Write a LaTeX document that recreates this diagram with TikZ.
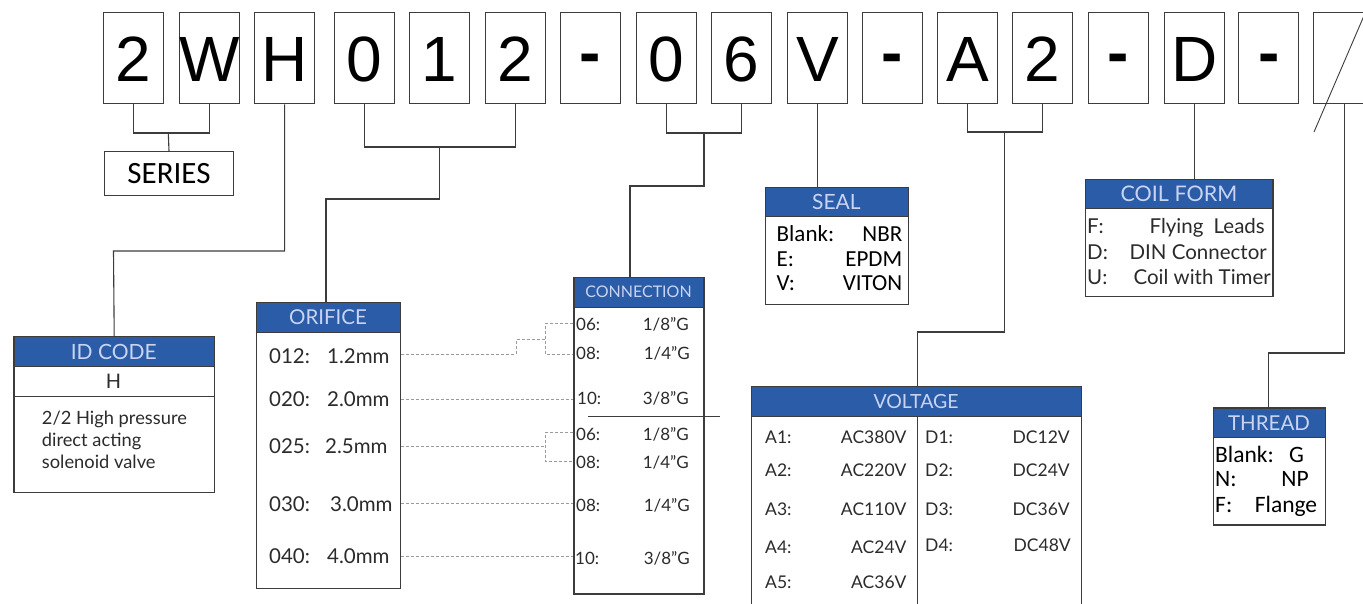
\documentclass[tikz,border=0pt]{standalone}
\usepackage{fontspec}
\setmainfont{Lato}
\newfontfamily\calib{Carlito}
\newfontfamily\arial{Liberation Sans}
\definecolor{hdrblue}{HTML}{2A5CA8}
\definecolor{hdrtext}{HTML}{CAD4F2}
\definecolor{framec}{HTML}{3C3C3C}
\definecolor{txt}{HTML}{2B2B2B}
\definecolor{dashc}{HTML}{9A9A9A}
\tikzset{
 codebox/.style={draw=framec, line width=1.3pt, minimum width=60pt, minimum height=91pt, inner sep=0pt, anchor=north west, text height=46pt, text depth=0pt, font=\arial\fontsize{64}{64}\selectfont},
 hdr/.style={fill=hdrblue, text=hdrtext, inner sep=0pt, anchor=north west},
 panel/.style={draw=framec, line width=1.4pt, inner sep=0pt, anchor=north west},
 link/.style={draw=framec, line width=1.1pt},
 dashlink/.style={draw=dashc, line width=0.8pt, dash pattern=on 3pt off 2pt},
 av/.style={text=txt, inner sep=0pt, font=\fontsize{20.5}{20.5}\selectfont},
 avs/.style={text=txt, inner sep=0pt, font=\fontsize{17}{17}\selectfont},
 avv/.style={text=txt, inner sep=0pt, font=\fontsize{17.5}{17.5}\selectfont},
 avi/.style={text=txt, inner sep=0pt, font=\fontsize{18.3}{18.3}\selectfont},
 avc/.style={text=txt, inner sep=0pt, font=\fontsize{20.5}{20.5}\selectfont},
 cal/.style={text=black, inner sep=0pt, font=\calib\fontsize{23}{23}\selectfont},
 calt/.style={text=black, inner sep=0pt, font=\calib\fontsize{23.5}{23.5}\selectfont},
}
\begin{document}
\begin{tikzpicture}[x=1pt,y=-1pt]
\useasboundingbox (0,0) rectangle (1363,604);
\fill[white] (0,0) rectangle (1363,604);
% top code boxes
\node[codebox] (c1) at (103,12) {2};
\node[codebox] (c2) at (178.6,12) {W};
\node[codebox] (c3) at (254,12) {H};
\node[codebox] (c4) at (334,12) {0};
\node[codebox] (c5) at (409,12) {1};
\node[codebox] (c6) at (485,12) {2};
\node[codebox] (c7) at (560,12) {\bfseries\raisebox{7pt}{-}};
\node[codebox] (c8) at (636,12) {0};
\node[codebox] (c9) at (710.5,12) {6};
\node[codebox] (c10) at (786.7,12) {V};
\node[codebox] (c11) at (861.6,12) {\bfseries\raisebox{7pt}{-}};
\node[codebox] (c12) at (937,12) {A};
\node[codebox] (c13) at (1012,12) {2};
\node[codebox] (c14) at (1087.7,12) {\bfseries\raisebox{7pt}{-}};
\node[codebox] (c15) at (1163.5,12) {D};
\node[codebox] (c16) at (1238,12) {\bfseries\raisebox{7pt}{-}};
\node[codebox] (c17) at (1313,12) {};
\draw[framec, line width=0.9pt] (1314,132) -- (1366,11);

% SERIES
\node[panel, minimum width=129.4pt, minimum height=44pt, font=\calib\fontsize{31}{31}\selectfont] (series) at (103.6,151) {SERIES};
\coordinate (sb) at (168.3,133);
\draw[link] (c1.south) |- (sb) -| (c2.south);
\draw[link] (sb) -- (series.north);

% ID CODE
\node[hdr, minimum width=200.4pt, minimum height=30.7pt, font=\fontsize{21}{21}\selectfont] (idh) at (13.3,336) {ID CODE};
\node[panel, minimum width=200.4pt, minimum height=155.7pt] (idcode) at (13.3,336) {};
\draw[framec, line width=1pt] (idcode.west |- 0,366.7) -- (idcode.east |- 0,366.7);
\draw[framec, line width=1.2pt] (idcode.west |- 0,396.7) -- (idcode.east |- 0,396.7);
\node[text=txt, inner sep=0pt, font=\fontsize{20}{20}\selectfont] (idH) at (113.5,381.7) {H};
\node[avi, anchor=base west] (idt1) at (41.7,424) {2/2 High pressure};
\node[avi, anchor=base west] (idt2) at (41.7,446) {direct acting};
\node[avi, anchor=base west] (idt3) at (41.7,468) {solenoid valve};
\coordinate (hk) at (113.5,251);
\draw[link] (c3.south) |- (hk) -- (idcode.north);

% ORIFICE
\node[hdr, minimum width=144.3pt, minimum height=30.6pt, font=\fontsize{20.5}{20.5}\selectfont] (orh) at (255.7,301.7) {ORIFICE};
\node[panel, minimum width=144.3pt, minimum height=286.3pt] (orifice) at (255.7,301.7) {};
\draw[framec, line width=1pt] (orifice.west |- 0,332.3) -- (orifice.east |- 0,332.3);
\node[av, anchor=base west] (o1c) at (269,363) {012:};
\node[av, anchor=base west] (o1v) at (327,363) {1.2mm};
\node[av, anchor=base west] (o2c) at (269,406.5) {020:};
\node[av, anchor=base west] (o2v) at (327,406.5) {2.0mm};
\node[av, anchor=base west] (o3c) at (269,453) {025:};
\node[av, anchor=base west] (o3v) at (325,453) {2.5mm};
\node[av, anchor=base west] (o4c) at (269,511.5) {030:};
\node[av, anchor=base west] (o4v) at (330,511.5) {3.0mm};
\node[av, anchor=base west] (o5c) at (269,563) {040:};
\node[av, anchor=base west] (o5v) at (327,563) {4.0mm};
\coordinate (ob) at (439.5,147);
\coordinate (ok) at (326,199);
\draw[link] (c4.south) |- (ob) -| (c6.south);
\draw[link] (ob) |- (ok) -- (ok |- orifice.north);

% CONNECTION
\node[hdr, minimum width=130pt, minimum height=30.6pt, font=\fontsize{16}{16}\selectfont] (cnh) at (573.3,276.7) {CONNECTION};
\node[panel, minimum width=130pt, minimum height=316.6pt] (conn) at (573.3,276.7) {};
\draw[framec, line width=1pt] (conn.west |- 0,307.3) -- (conn.east |- 0,307.3);
\node[avs, anchor=base west] (k1c) at (576,330.5) {06:};
\node[avs, anchor=base east] (k1v) at (689,330.5) {1/8”G};
\node[avs, anchor=base west] (k2c) at (576,359) {08:};
\node[avs, anchor=base east] (k2v) at (690,359) {1/4”G};
\node[avs, anchor=base west] (k3c) at (577,404) {10:};
\node[avs, anchor=base east] (k3v) at (689,404) {3/8”G};
\node[avs, anchor=base west] (k4c) at (576,440.5) {06:};
\node[avs, anchor=base east] (k4v) at (689,440.5) {1/8”G};
\node[avs, anchor=base west] (k5c) at (576,468.5) {08:};
\node[avs, anchor=base east] (k5v) at (689,468.5) {1/4”G};
\node[avs, anchor=base west] (k6c) at (576,511.5) {08:};
\node[avs, anchor=base east] (k6v) at (690,511.5) {1/4”G};
\node[avs, anchor=base west] (k7c) at (575,564) {10:};
\node[avs, anchor=base east] (k7v) at (690,564) {3/8”G};
\coordinate (sepl) at (588.3,416);
\coordinate (sepr) at (720,416);
\draw[framec, line width=1pt] (sepl) -- (sepr);
\coordinate (cb) at (704,133);
\coordinate (ck) at (630,186);
\draw[link] (c8.south) |- (cb) -| (c9.south);
\draw[link] (cb) |- (ck) -- (ck |- conn.north);

% dashed orifice -> connection
\draw[dashlink] (orifice.east |- 0,354) -- (516,354) -- (516,339.3) -- (545.7,339.3);
\draw[dashlink] (conn.west |- 0,323.3) -- (545.7,323.3) -- (545.7,354) -- (conn.west |- 0,354);
\draw[dashlink] (orifice.east |- 0,399.3) -- (conn.west |- 0,399.3);
\draw[dashlink] (orifice.east |- 0,446.7) -- (545.7,446.7);
\draw[dashlink] (conn.west |- 0,432.3) -- (545.7,432.3) -- (545.7,461.7) -- (conn.west |- 0,461.7);
\draw[dashlink] (orifice.east |- 0,503.3) -- (conn.west |- 0,503.3);
\draw[dashlink] (orifice.east |- 0,556.7) -- (conn.west |- 0,556.7);

% SEAL
\node[hdr, minimum width=143.1pt, minimum height=30pt, font=\fontsize{21}{21}\selectfont] (slh) at (764.6,186.7) {SEAL};
\node[panel, minimum width=143.1pt, minimum height=117.3pt] (seal) at (764.6,186.7) {};
\draw[framec, line width=1pt] (seal.west |- 0,216.7) -- (seal.east |- 0,216.7);
\node[cal, anchor=base west] (s1c) at (776.5,241.5) {Blank:};
\node[cal, anchor=base east] (s1v) at (902.5,241.5) {NBR};
\node[cal, anchor=base west] (s2c) at (776.5,266) {E:};
\node[cal, anchor=base east] (s2v) at (902.5,266) {EPDM};
\node[cal, anchor=base west] (s3c) at (776.5,290.7) {V:};
\node[cal, anchor=base east] (s3v) at (902.5,290.7) {VITON};
\draw[link] (c10.south) -- (c10.south |- seal.north);

% VOLTAGE
\node[hdr, minimum width=329.7pt, minimum height=30.7pt, font=\fontsize{19.5}{19.5}\selectfont] (vth) at (751,386) {VOLTAGE};
\node[panel, minimum width=329.7pt, minimum height=234pt] (volt) at (751,386) {};
\draw[framec, line width=1pt] (volt.west |- 0,416.7) -- (volt.east |- 0,416.7);
\draw[framec, line width=1.3pt] (917.7,416.7) -- (917.7,620);
\node[avv, anchor=base west] (a1c) at (765,443) {A1:};
\node[avv, anchor=base east] (a1v) at (906.7,443) {AC380V};
\node[avv, anchor=base west] (a2c) at (765,476.5) {A2:};
\node[avv, anchor=base east] (a2v) at (906.7,476.5) {AC220V};
\node[avv, anchor=base west] (a3c) at (765,515) {A3:};
\node[avv, anchor=base east] (a3v) at (906.7,515) {AC110V};
\node[avv, anchor=base west] (a4c) at (765,553) {A4:};
\node[avv, anchor=base east] (a4v) at (906.7,553) {AC24V};
\node[avv, anchor=base west] (a5c) at (765,588) {A5:};
\node[avv, anchor=base east] (a5v) at (906.7,588) {AC36V};
\node[avv, anchor=base west] (d1c) at (925,443) {D1:};
\node[avv, anchor=base east] (d1v) at (1070,443) {DC12V};
\node[avv, anchor=base west] (d2c) at (925,476.5) {D2:};
\node[avv, anchor=base east] (d2v) at (1070,476.5) {DC24V};
\node[avv, anchor=base west] (d3c) at (925,515) {D3:};
\node[avv, anchor=base east] (d3v) at (1070,515) {DC36V};
\node[avv, anchor=base west] (d4c) at (925,551) {D4:};
\node[avv, anchor=base east] (d4v) at (1071,551) {DC48V};
\coordinate (vb) at (1004.5,132);
\coordinate (vk) at (917.7,332);
\draw[link] (c12.south) |- (vb) -| (c13.south);
\draw[link] (vb) |- (vk) -- (vk |- volt.north);

% COIL FORM
\node[hdr, minimum width=187.4pt, minimum height=30pt, font=\fontsize{21.5}{21.5}\selectfont] (cfh) at (1085,179) {COIL FORM};
\node[panel, minimum width=187.4pt, minimum height=116.7pt] (coil) at (1085,179) {};
\draw[framec, line width=1pt] (coil.west |- 0,209) -- (coil.east |- 0,209);
\node[avc, anchor=base west] (f1c) at (1087,234) {F:};
\node[avc, anchor=base east] (f1v) at (1265,234) {Flying\hspace{5pt} Leads};
\node[avc, anchor=base west] (f2c) at (1087,260) {D:};
\node[avc, anchor=base east] (f2v) at (1267,260) {DIN Connector};
\node[avc, anchor=base west] (f3c) at (1087,284.5) {U:};
\node[avc, anchor=base east] (f3v) at (1271,284.5) {Coil with Timer};
\draw[link] (c15.south) -- (c15.south |- coil.north);

% THREAD
\node[hdr, minimum width=112.3pt, minimum height=30.4pt, font=\fontsize{20.5}{20.5}\selectfont] (thh) at (1212.7,407.3) {THREAD};
\node[panel, minimum width=112.3pt, minimum height=117pt] (thread) at (1212.7,407.3) {};
\draw[framec, line width=1pt] (thread.west |- 0,437.7) -- (thread.east |- 0,437.7);
\node[calt, anchor=base west] (t1c) at (1215,462) {Blank:};
\node[calt, anchor=base] (t1v) at (1296.5,462) {G};
\node[calt, anchor=base west] (t2c) at (1215,486) {N:};
\node[calt, anchor=base] (t2v) at (1295,486) {NP};
\node[calt, anchor=base west] (t3c) at (1215,512) {F:};
\node[calt, anchor=base] (t3v) at (1286,512) {Flange};
\coordinate (tk) at (1268.3,353);
\draw[link] (c17.south -| 1344.5,0) |- (tk) -- (tk |- thread.north);
\end{tikzpicture}
\end{document}
